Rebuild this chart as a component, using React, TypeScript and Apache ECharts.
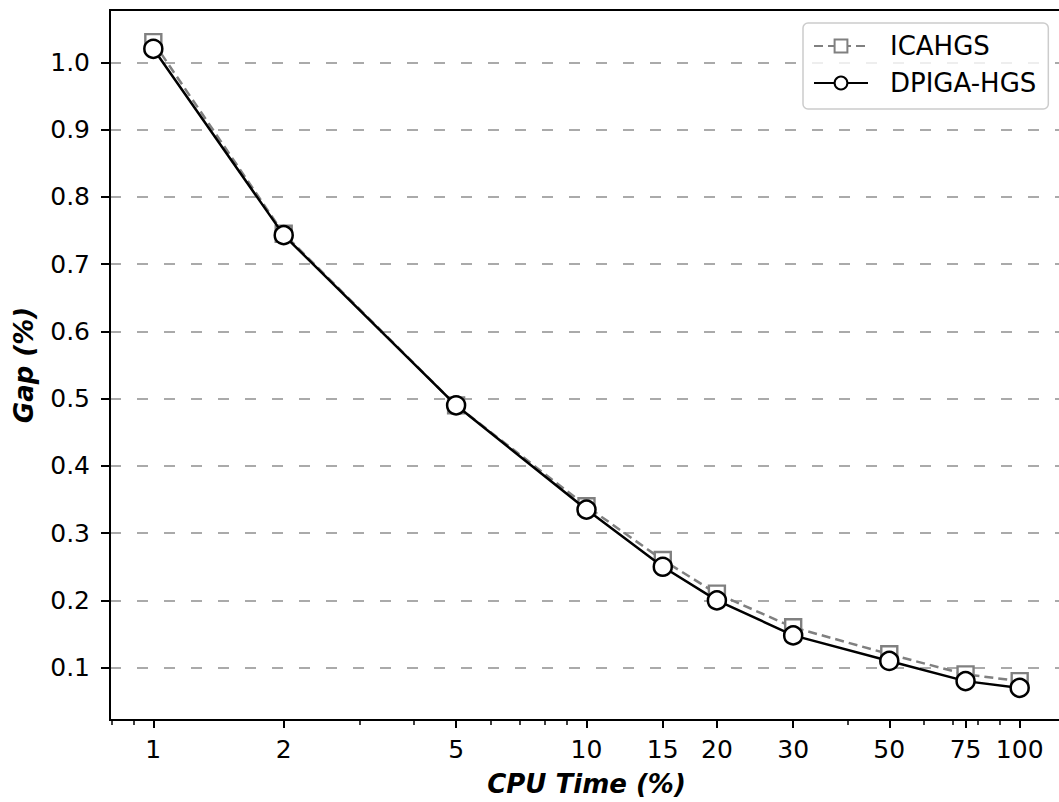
import React, { useEffect, useRef } from "react";
import * as echarts from "echarts";

const cpuTime = [1, 2, 5, 10, 15, 20, 30, 50, 75, 100];
const icahgs = [1.03, 0.745, 0.49, 0.34, 0.26, 0.21, 0.16, 0.12, 0.09, 0.08];
const dpigaHgs = [1.02, 0.743, 0.49, 0.335, 0.25, 0.2, 0.148, 0.11, 0.08, 0.07];
const xTicks = [1, 2, 5, 10, 15, 20, 30, 50, 75, 100];
const xMinorTicks = [0.8, 0.9, 3, 4, 6, 7, 8, 9, 40, 60, 70, 80, 90];
const yTicks = [0.1, 0.2, 0.3, 0.4, 0.5, 0.6, 0.7, 0.8, 0.9, 1.0];

const FONT = "DejaVu Sans";

export default function App() {
  const ref = useRef<HTMLDivElement>(null);
  useEffect(() => {
    if (!ref.current) return;
    const chart = echarts.init(ref.current, null, { renderer: "svg" });
    const xMin = Math.pow(10, -0.1);
    const xMax = Math.pow(10, 2.1);
    chart.setOption({
      animation: false,
      backgroundColor: "#ffffff",
      textStyle: { fontFamily: FONT },
      grid: {
        left: 110,
        right: 1,
        top: 10,
        bottom: 81,
        show: true,
        borderColor: "#000",
        borderWidth: 2,
        backgroundColor: "transparent",
      },
      legend: {
        orient: "vertical",
        left: 803,
        top: 23,
        itemWidth: 54,
        itemHeight: 16,
        itemGap: 11,
        padding: [10, 12, 13, 10],
        backgroundColor: "rgba(255,255,255,0.8)",
        borderColor: "#cccccc",
        borderWidth: 1.5,
        borderRadius: 5,
        textStyle: { fontFamily: FONT, fontSize: 26, color: "#000", padding: [0, 0, 0, 17] },
        data: ["ICAHGS", "DPIGA-HGS"],
      },
      xAxis: [
        {
          type: "log",
          min: xMin,
          max: xMax,
          name: "CPU Time (%)",
          nameLocation: "middle",
          nameGap: 51,
          nameTextStyle: { fontFamily: FONT, fontSize: 26, fontWeight: "bold", fontStyle: "italic", color: "#000" },
          axisLine: { show: true, lineStyle: { color: "#000", width: 2 } },
          axisTick: { show: true, length: 8, lineStyle: { color: "#000", width: 2 }, customValues: xTicks },
          axisLabel: {
            show: true,
            customValues: xTicks,
            fontFamily: FONT,
            fontSize: 25,
            color: "#000",
            margin: 17,
            formatter: (v: number) => String(Math.round(v)),
          },
          splitLine: { show: false },
          minorTick: { show: false },
        },
        {
          type: "log",
          min: xMin,
          max: xMax,
          position: "bottom",
          axisLine: { show: false },
          axisTick: { show: true, length: 5, lineStyle: { color: "#000", width: 1.5 }, customValues: xMinorTicks },
          axisLabel: { show: false, customValues: xMinorTicks },
          splitLine: { show: false },
        },
      ],
      yAxis: {
        type: "value",
        min: 0.0222,
        max: 1.0777,
        name: "Gap (%)",
        nameLocation: "middle",
        nameGap: 73,
        nameTextStyle: { fontFamily: FONT, fontSize: 26, fontWeight: "bold", fontStyle: "italic", color: "#000" },
        axisLine: { show: true, lineStyle: { color: "#000", width: 2 } },
        axisTick: { show: true, length: 9, lineStyle: { color: "#000", width: 2 }, customValues: yTicks },
        axisLabel: {
          customValues: yTicks,
          fontFamily: FONT,
          fontSize: 25,
          color: "#000",
          margin: 20,
          formatter: (v: number) => v.toFixed(1),
        },
        splitLine: { show: true, lineStyle: { color: "#aaaaaa", width: 1.8, type: [11, 16] } },
      },
      series: [
        {
          name: "ICAHGS",
          type: "line",
          xAxisIndex: 0,
          data: cpuTime.map((x, i) => [x, icahgs[i]]),
          symbol: "rect",
          symbolSize: 16,
          z: 2,
          color: "#808080",
          lineStyle: { color: "#808080", width: 2.5, type: [9, 5] },
          itemStyle: { color: "#ffffff", borderColor: "#808080", borderWidth: 2.4 },
        },
        {
          name: "DPIGA-HGS",
          type: "line",
          xAxisIndex: 0,
          data: cpuTime.map((x, i) => [x, dpigaHgs[i]]),
          symbol: "circle",
          symbolSize: 18,
          z: 3,
          color: "#000",
          lineStyle: { color: "#000", width: 2.5 },
          itemStyle: { color: "#ffffff", borderColor: "#000", borderWidth: 2.5 },
        },
      ],
    });
    return () => chart.dispose();
  }, []);
  return (
    <div style={{ position: "fixed", left: 0, top: 0, width: 1059, height: 802, overflow: "hidden", background: "#fff" }}>
      <div ref={ref} style={{ position: "absolute", left: 0, top: 0, width: 1064, height: 802 }} />
    </div>
  );
}
